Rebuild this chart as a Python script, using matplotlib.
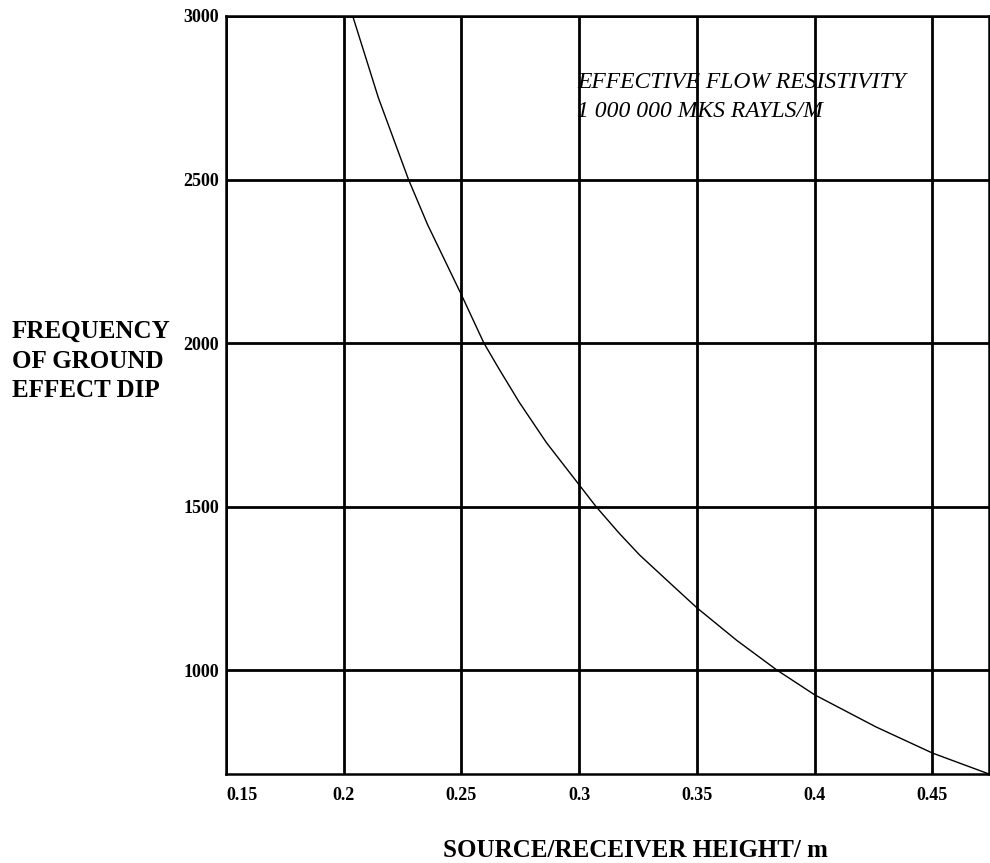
import matplotlib
matplotlib.use("Agg")
import matplotlib.pyplot as plt

# values
height = [0.2038, 0.2147, 0.2275, 0.2356, 0.25, 0.2595, 0.266, 0.2746,
          0.2861, 0.30, 0.3071, 0.317, 0.3256, 0.337, 0.35, 0.367,
          0.3839, 0.40, 0.426, 0.45, 0.474]
freq = [3000, 2750, 2500, 2362, 2147, 2000, 1920, 1818,
        1695, 1566, 1500, 1418, 1352, 1276, 1190, 1090,
        1000, 924, 826, 746, 682]

xticks = [0.15, 0.2, 0.25, 0.3, 0.35, 0.4, 0.45]
xticklabels = ["0.15", "0.2", "0.25", "0.3", "0.35", "0.4", "0.45"]
yticks = [1000, 1500, 2000, 2500, 3000]
yticklabels = ["1000", "1500", "2000", "2500", "3000"]

plt.rcParams['font.family'] = ['Liberation Serif', 'DejaVu Serif']

fig = plt.figure(figsize=(9.9, 8.63), dpi=100)
W, H = 990, 863
ax = fig.add_axes([226 / W, 1 - 774 / H, (989 - 226) / W, (774 - 16) / H])

ax.plot(height, freq, color='black', lw=1.0, zorder=3)

ax.set_xlim(0.15, 0.474)
ax.set_ylim(682, 3000)

ax.set_xticks(xticks)
ax.set_xticklabels(xticklabels, fontsize=13, fontweight='bold')
ax.set_yticks(yticks)
ax.set_yticklabels(yticklabels, fontsize=13, fontweight='bold')
ax.get_xticklabels()[0].set_horizontalalignment('left')
ax.tick_params(axis='x', length=0, pad=9)
ax.tick_params(axis='y', length=0, pad=5)

ax.grid(True, color='black', lw=2.0)
for s in ax.spines.values():
    s.set_linewidth(1.8)
    s.set_color('black')

ax.text(0.299, 2752, "EFFECTIVE FLOW RESISTIVITY\n1 000 000 MKS RAYLS/M",
        fontsize=17, fontstyle='italic', va='center', ha='left',
        linespacing=1.45, color='black')

fig.text(635 / W, 1 - 850 / H, "SOURCE/RECEIVER HEIGHT/ m",
         fontsize=18, fontweight='bold', ha='center', va='center')
fig.text(12 / W, 1 - 361 / H, "FREQUENCY\nOF GROUND\nEFFECT DIP",
         fontsize=18, fontweight='bold', ha='left', va='center',
         linespacing=1.35)

fig.savefig("out.png", dpi=100)
